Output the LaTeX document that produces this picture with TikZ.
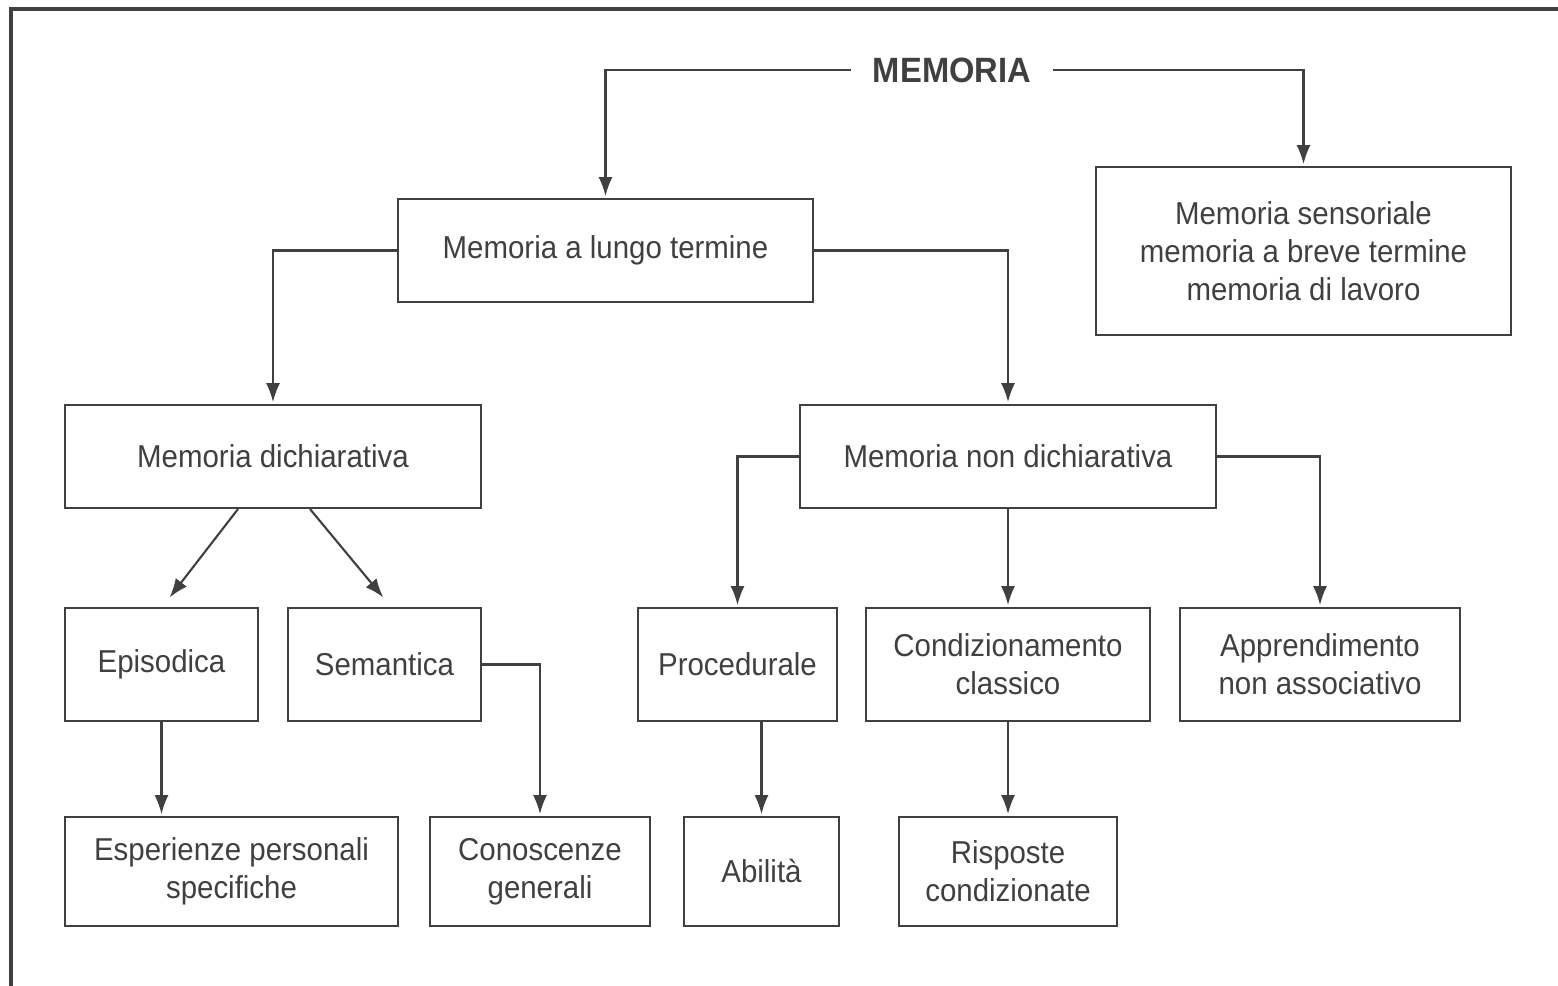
\documentclass[tikz,border=0pt]{standalone}
\usepackage{fontspec}
\setmainfont{Liberation Sans}[FakeStretch=0.93]
\usetikzlibrary{arrows.meta}
\definecolor{inkgray}{HTML}{404040}
\tikzset{
  box/.style={draw=inkgray, line width=0.6pt, fill=white, text=inkgray,
    align=center, inner sep=0pt, font=\fontsize{9}{10.8}\selectfont},
  link/.style={draw=inkgray, line width=0.6pt,
    -{Latex[length=1.9mm,width=1.4mm]}, shorten >=0.5pt},
}
\begin{document}
\begin{tikzpicture}[x=0.01cm, y=-0.01cm]
  \useasboundingbox (0,0) rectangle (1558,986);
  \draw [inkgray, line width=0.9pt] (1558,9) -- (11,9) -- (11,986); % frame

  \node (mem) [text=inkgray, minimum width=2cm, inner sep=0pt,
    font=\fontsize{10}{12}\selectfont\bfseries] at (952,70) {MEMORIA};

  \node (lungo) [box, minimum width=4.15cm, minimum height=1.03cm]
    at (605.5,250.5) {Memoria a lungo termine};
  \node (sens) [box, minimum width=4.15cm, minimum height=1.68cm]
    at (1303.5,251) {Memoria sensoriale\\memoria a breve termine\\memoria di lavoro};

  \node (dich) [box, minimum width=4.16cm, minimum height=1.03cm]
    at (273,456.5) {Memoria dichiarativa};
  \node (nondich) [box, minimum width=4.16cm, minimum height=1.03cm]
    at (1008,456.5) {Memoria non dichiarativa};

  \node (epis) [box, minimum width=1.93cm, minimum height=1.13cm]
    at (161.5,664.5) {Episodica};
  \node (sem) [box, minimum width=1.93cm, minimum height=1.13cm]
    at (384.5,664.5) {Semantica};
  \node (proc) [box, minimum width=1.99cm, minimum height=1.13cm]
    at (737.5,664.5) {Procedurale};
  \node (cond) [box, minimum width=2.84cm, minimum height=1.13cm]
    at (1008,664.5) {Condizionamento\\classico};
  \node (appr) [box, minimum width=2.80cm, minimum height=1.13cm]
    at (1320,664.5) {Apprendimento\\non associativo};

  \node (esp) [box, minimum width=3.33cm, minimum height=1.09cm]
    at (231.5,871.5) {Esperienze personali\\specifiche};
  \node (con) [box, minimum width=2.20cm, minimum height=1.09cm]
    at (540,871.5) {Conoscenze\\generali};
  \node (abil) [box, minimum width=1.55cm, minimum height=1.09cm]
    at (761.5,871.5) {Abilità};
  \node (risp) [box, minimum width=2.18cm, minimum height=1.09cm]
    at (1008,871.5) {Risposte\\condizionate};

  \draw [link] (mem.west) -| (lungo.north); % MEMORIA -> lungo termine
  \draw [link] (mem.east) -| (sens.north);  % MEMORIA -> sensoriale
  \draw [link] (lungo.west) -| (dich.north);
  \draw [link] (lungo.east) -| (nondich.north);

  \draw [link] ([xshift=-0.35cm]dich.south) -- ([xshift=0.07cm,yshift=0.08cm]epis.north);
  \draw [link] ([xshift=0.37cm]dich.south) -- ([yshift=0.08cm]sem.north);
  \draw [link] (epis.south) -- (epis.south |- esp.north);
  \draw [link] (sem.east) -| (con.north);

  \draw [link] (nondich.west) -| (proc.north);
  \draw [link] (nondich.south) -- (cond.north);
  \draw [link] (nondich.east) -| (appr.north);
  \draw [link] (abil.north |- proc.south) -- (abil.north);
  \draw [link] (cond.south) -- (risp.north);
\end{tikzpicture}
\end{document}
